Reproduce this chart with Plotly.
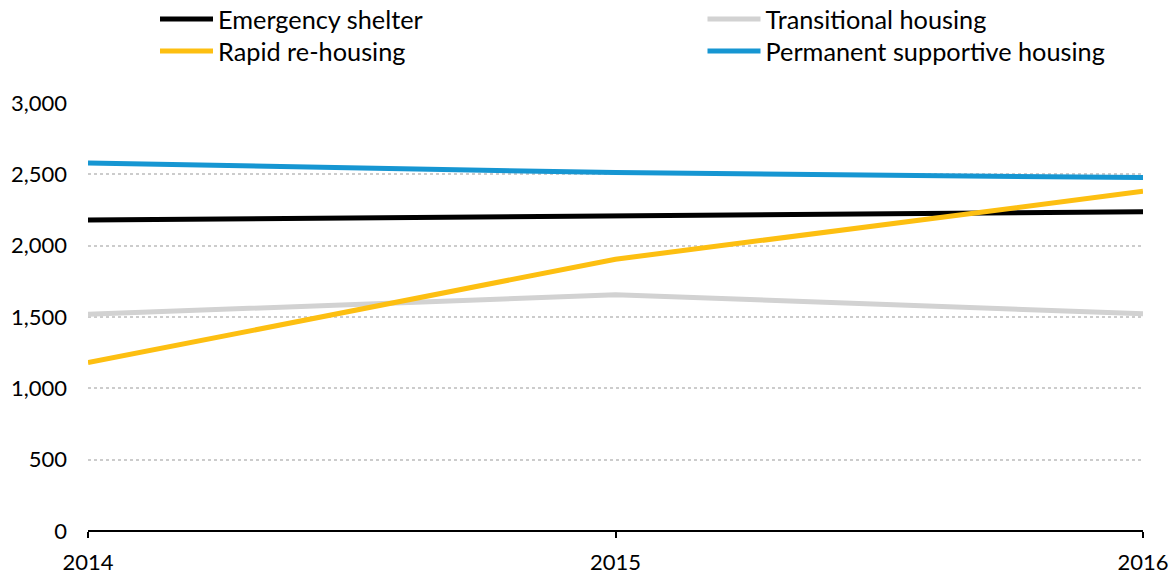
import plotly.graph_objects as go

years = [2014, 2015, 2016]
emergency_shelter = [2180, 2210, 2238]
transitional_housing = [1519, 1656, 1523]
rapid_rehousing = [1180, 1905, 2381]
permanent_supportive = [2579, 2512, 2477]

series = [
    ("Emergency shelter", emergency_shelter, "#000000", "legend"),
    ("Transitional housing", transitional_housing, "#d2d2d2", "legend2"),
    ("Rapid re-housing", rapid_rehousing, "#fdbf11", "legend3"),
    ("Permanent supportive housing", permanent_supportive, "#1696d2", "legend4"),
]

fig = go.Figure()
for name, vals, color, lg in series:
    fig.add_trace(go.Scatter(x=years, y=vals, name=name, mode="lines", legend=lg,
                             line=dict(color=color, width=5)))

leg_common = dict(orientation="v", yref="paper", xref="container",
                  yanchor="top", xanchor="left", itemwidth=53,
                  font=dict(size=25.3, color="#000000"),
                  bgcolor="rgba(0,0,0,0)")

col1_x = 155 / 1173
col2_x = 702.5 / 1173
row1_y = 1.2500
row2_y = 1.1752

fig.update_layout(
    width=1173, height=574,
    margin=dict(l=88, r=30, t=103, b=43, autoexpand=False),
    paper_bgcolor="white", plot_bgcolor="white",
    font=dict(family="Lato", size=22, color="#000000"),
    showlegend=True,
    legend=dict(x=col1_x, y=row1_y, **leg_common),
    legend2=dict(x=col2_x, y=row1_y, **leg_common),
    legend3=dict(x=col1_x, y=row2_y, **leg_common),
    legend4=dict(x=col2_x, y=row2_y, **leg_common),
    xaxis=dict(range=[2014, 2016], tickvals=years, ticktext=[str(y) for y in years],
               showgrid=False, zeroline=False, showline=False,
               ticks="outside", ticklen=6, tickwidth=2, tickcolor="#000000",
               ticklabelstandoff=6),
    yaxis=dict(range=[0, 3000], tickvals=[0, 500, 1000, 1500, 2000, 2500, 3000],
               tickformat=",", showgrid=True, gridcolor="#cccccc", gridwidth=2,
               griddash="dot", zeroline=True, zerolinecolor="#000000", zerolinewidth=2,
               ticks="", ticklabelstandoff=20),
    hovermode=False,
)
fig.write_html("out.html", config={"displayModeBar": False},
               post_script="document.body.style.margin='0';document.body.style.overflow='hidden';")
